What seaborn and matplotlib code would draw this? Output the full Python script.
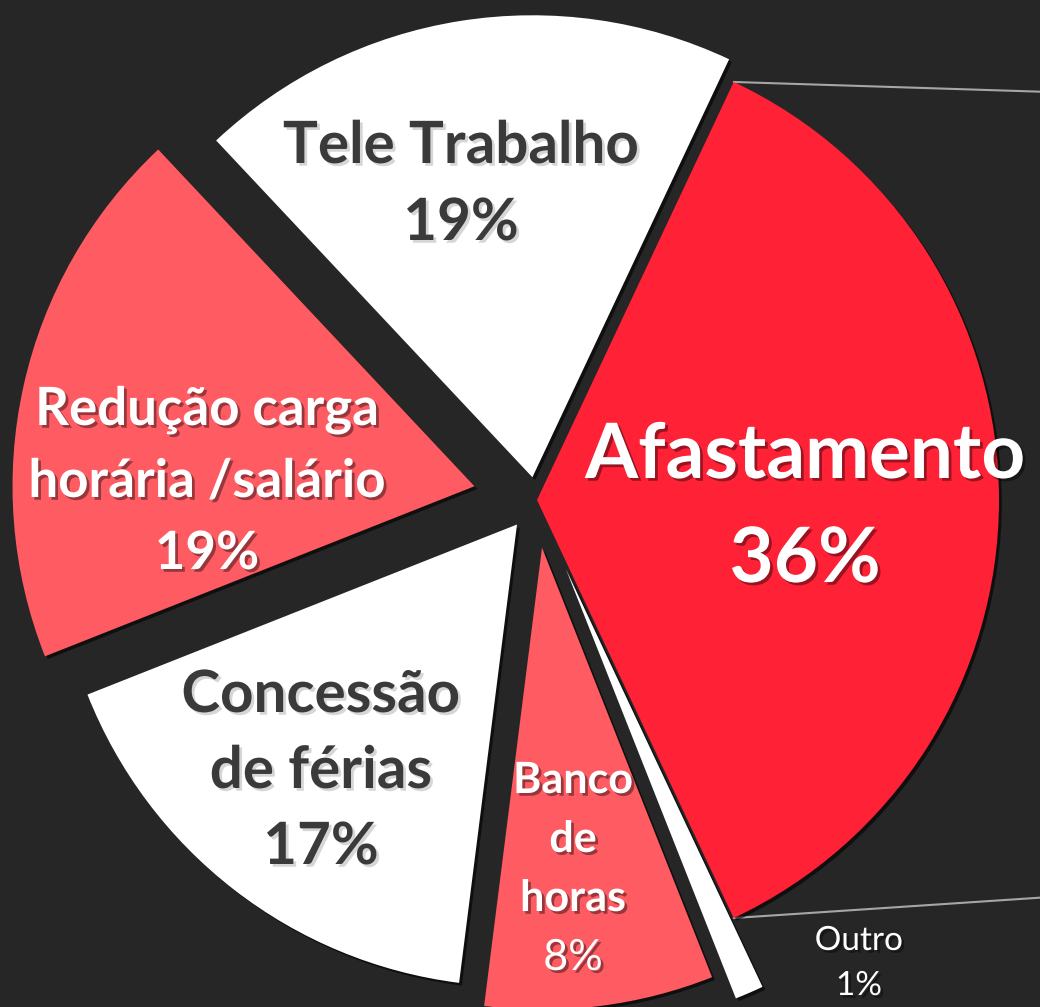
import matplotlib
matplotlib.use("Agg")
import matplotlib.pyplot as plt
import matplotlib.patheffects as pe
import numpy as np
import seaborn as sns

# data
categories = ["Afastamento", "Outro", "Banco\nde\nhoras", "Concessão\nde férias",
              "Redução carga\nhorária /salário", "Tele Trabalho"]
values = [36, 1, 8, 17, 19, 19]
pct_labels = [f"{v}%" for v in values]

# styling / layout
BG = "#262626"
RED = "#FF2136"
LIGHT_RED = "#FF5B63"
DARK_TXT = "#3A3A3A"
colors = [RED, "#FFFFFF", LIGHT_RED, "#FFFFFF", LIGHT_RED, "#FFFFFF"]
explode_px = [1, 75, 48, 31, 63, 23]  # pie() offsets in data units (= pixels here)

# label layout: x, first baseline (px from top), line step, size, colour, name weight, pct weight
label_layout = [
    (805, 478, 104, 55, "white", "bold", "bold"),
    (859, 950, 45, 24, "white", "normal", "normal"),
    (573, 793, 59, 31, "white", "bold", "normal"),
    (321, 712, 76, 42, DARK_TXT, "bold", "bold"),
    (207, 425, 72, 38, "white", "bold", "bold"),
    (461, 163, 77, 42, DARK_TXT, "bold", "bold"),
]

sns.set_theme(style="dark", rc={"figure.facecolor": BG, "axes.facecolor": BG})
plt.rcParams["font.family"] = ["Lato", "DejaVu Sans"]

W, H = 1040, 1007
fig = plt.figure(figsize=(W / 100, H / 100), dpi=100)
ax = fig.add_axes([0, 0, 1, 1])

cx, cy, R = 536, H - 500, 462
wedges, _ = ax.pie(values, explode=explode_px, colors=colors,
                   startangle=values[0] / sum(values) * 180, counterclock=False,
                   radius=R, center=(cx, cy), wedgeprops=dict(linewidth=0))
for w in wedges:
    w.set_path_effects([pe.withSimplePatchShadow(offset=(2, -2), shadow_rgbFace="black", alpha=0.6)])

ax.set_xlim(0, W)
ax.set_ylim(0, H)
ax.set_aspect("equal")
ax.axis("off")

# connector lines of the pie-of-pie (second pie is off to the right)
main = wedges[0]
mx, my = main.center
top = (mx + R * np.cos(np.radians(main.theta2)), my + R * np.sin(np.radians(main.theta2)))
bot = (mx + R * np.cos(np.radians(main.theta1)), my + R * np.sin(np.radians(main.theta1)))
ax.plot([top[0], W + 10], [top[1], H - 92], color="#A6A6A6", lw=1.5, zorder=0)
ax.plot([bot[0], W + 10], [bot[1], H - 897], color="#A6A6A6", lw=1.5, zorder=0)

# labels
for cat, pct, (x, y0, step, size, col, wname, wpct) in zip(categories, pct_labels, label_layout):
    lines = cat.split("\n") + [pct]
    shadow = "black" if col == "white" else "#9A9A9A"
    for k, line in enumerate(lines):
        weight = wpct if k == len(lines) - 1 else wname
        ax.text(x, H - (y0 + k * step), line, ha="center", va="baseline",
                fontsize=size, color=col, fontweight=weight,
                path_effects=[pe.withSimplePatchShadow(offset=(2, -2), shadow_rgbFace=shadow, alpha=0.4)])

fig.savefig("out.png", dpi=100, facecolor=BG)
